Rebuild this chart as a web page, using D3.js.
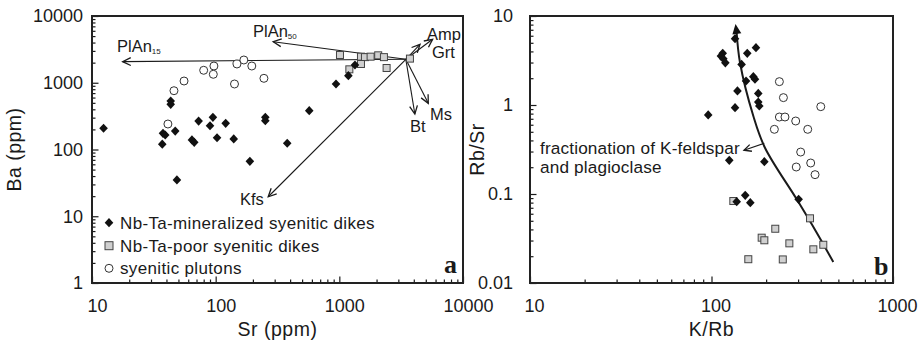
<!DOCTYPE html>
<html><head><meta charset="utf-8">
<script src="https://cdnjs.cloudflare.com/ajax/libs/d3/7.8.5/d3.min.js"></script>
<style>
body{margin:0;background:#fff;}
svg text{font-family:"Liberation Sans",Arial,sans-serif;fill:#1a1a1a;}
</style></head>
<body><svg id="c" width="920" height="344"></svg>
<script>
// ---------- Panel a data: Sr (ppm), Ba (ppm) ----------
const mineralizedSr = [12.4,43.3,43.3,37.5,39.1,47.1,37,64.3,67.1,72.8,95,90,102.6,120.5,140,189,48.6,252,252,379,571,940,1183,1338];
const mineralizedBa = [208,533,475,175,165,189,120,139,128,267,303,227,150,247,144,66.5,35,303,270,124,382,957,1276,1845];
const poorSr = [1012,1496,1611,1790,2062,2294,2411,1496,1205,3724];
const poorBa = [2605,2459,2420,2459,2576,2420,1663,1910,1589,2300];
const plutonSr = [41.1,46,55.5,80,96.8,95.7,142,148.6,169,196,245.6];
const plutonBa = [241,760,1062,1537,1782,1339,958,1910,2193,1782,1165];
const vectorOrigin = [3450,2245];
const vectorNames = ["PlAn15","PlAn50","Amp","Grt","Bt","Ms","Kfs"];
const vectorEndSr = [17.7,292,5680,4490,4080,5240,266];
const vectorEndBa = [2070,4120,4480,3770,340,492,19.6];
const legendLabels = ["Nb-Ta-mineralized syenitic dikes","Nb-Ta-poor syenitic dikes","syenitic plutons"];
const aTicksX = [10,100,1000,10000];
const aTicksY = [1,10,100,1000,10000];

// ---------- Panel b data: K/Rb, Rb/Sr ----------
const bMinKRb = [134.8,115.3,112.7,116.2,119.2,157.4,175.8,146.5,155,170,173.6,139,181,181,183.4,134.8,95.9,125.3,195.5,153.4,137.7,163.6,302];
const bMinRbSr = [5.56,3.81,3.55,3.31,2.98,3.81,4.41,2.86,1.86,2.08,1.95,1.44,1.35,1.08,0.975,0.933,0.773,0.239,0.231,0.0966,0.082,0.0798,0.0871];
const bPoorKRb = [131.9,349,224.6,189,195.5,268.5,413,364,159.5,247];
const bPoorRbSr = [0.0834,0.0533,0.0407,0.0323,0.0302,0.0279,0.0269,0.0239,0.0185,0.0184];
const bPlutKRb = [236.6,249,400,236.6,254,291,222,339,310,352,293,372];
const bPlutRbSr = [1.83,1.21,0.958,0.733,0.733,0.661,0.533,0.533,0.296,0.223,0.201,0.165];
const trendKRb = [469,380,295,197,170,143.6,137.5];
const trendRbSr = [0.0172,0.0367,0.0871,0.331,0.752,2.98,6.61];
const trendTip = [135.6,8.13];
const noteArrowKRb = [195.4,151];
const noteArrowRbSr = [0.371,0.310];
const bTicksX = [10,100,1000];
const bTicksY = [0.01,0.1,1,10];

const svg = d3.select("#c");
const INK = "#1a1a1a";

function minorTicks(lo, hi){
  const out=[];
  for(let d=lo; d<hi; d*=10) for(let k=2;k<=9;k++) out.push(d*k);
  return out;
}

function panel(x, y, ticksX, ticksY, xLabelDx, yPad, xTitle, yTitle, yTitleX, fmtY){
  const g = svg.append("g");
  const [x0,x1]=x.range(), [y0,y1]=y.range();
  g.append("g").attr("transform",`translate(0,${y0})`)
    .call(d3.axisBottom(x).tickValues(minorTicks(ticksX[0],ticksX[ticksX.length-1])).tickSize(-3.5).tickFormat(""))
    .call(s=>s.select(".domain").remove());
  g.append("g").attr("transform",`translate(${x0},0)`)
    .call(d3.axisLeft(y).tickValues(minorTicks(ticksY[0],ticksY[ticksY.length-1])).tickSize(-3.5).tickFormat(""))
    .call(s=>s.select(".domain").remove());
  const ax = g.append("g").attr("transform",`translate(0,${y0})`)
    .call(d3.axisBottom(x).tickValues(ticksX).tickSize(-6.5).tickPadding(16).tickFormat(d3.format("d")));
  ax.select(".domain").remove();
  ax.selectAll("text").attr("dx",xLabelDx).style("font-size","18px").style("font-family","Liberation Sans, Arial");
  const ay = g.append("g").attr("transform",`translate(${x0},0)`)
    .call(d3.axisLeft(y).tickValues(ticksY).tickSize(-6.5).tickPadding(yPad).tickFormat(fmtY));
  ay.select(".domain").remove();
  ay.selectAll("text").style("font-size","18px").style("font-family","Liberation Sans, Arial");
  g.selectAll(".tick line").attr("stroke",INK).attr("stroke-width",1.2);
  g.append("rect").attr("x",x0).attr("y",y1).attr("width",x1-x0).attr("height",y0-y1)
    .attr("fill","none").attr("stroke","#222").attr("stroke-width",2);
  g.append("text").attr("x",(x0+x1)/2).attr("y",336).attr("text-anchor","middle")
    .style("font-size","19.5px").style("letter-spacing","0.5px").text(xTitle);
  g.append("text").attr("transform",`translate(${yTitleX},${(y0+y1)/2}) rotate(-90)`)
    .attr("text-anchor","middle").style("font-size","19.5px").style("letter-spacing","0.5px").text(yTitle);
  return g;
}

const diamond = "M0,-4.6L4.3,0L0,4.6L-4.3,0Z";
function drawDiamonds(g,xs,ys,x,y){
  g.selectAll(null).data(xs).enter().append("path").attr("d",diamond)
    .attr("transform",(d,i)=>`translate(${x(d)},${y(ys[i])})`).attr("fill","#111");
}
function drawSquares(g,xs,ys,x,y){
  g.selectAll(null).data(xs).enter().append("rect")
    .attr("x",d=>x(d)-3.5).attr("y",(d,i)=>y(ys[i])-3.5).attr("width",7).attr("height",7)
    .attr("fill","#d0d0d0").attr("stroke","#444").attr("stroke-width",1);
}
function drawCircles(g,xs,ys,x,y){
  g.selectAll(null).data(xs).enter().append("circle")
    .attr("cx",d=>x(d)).attr("cy",(d,i)=>y(ys[i])).attr("r",4)
    .attr("fill","#fff").attr("stroke","#333").attr("stroke-width",1);
}
function arrowLine(g,xa,ya,xb,yb,head){
  g.append("line").attr("x1",xa).attr("y1",ya).attr("x2",xb).attr("y2",yb)
    .attr("stroke",INK).attr("stroke-width",1.1);
  const ang=Math.atan2(yb-ya,xb-xa), L=head||9, s=0.45;
  const p=`M${xb-L*Math.cos(ang-s)},${yb-L*Math.sin(ang-s)}L${xb},${yb}L${xb-L*Math.cos(ang+s)},${yb-L*Math.sin(ang+s)}`;
  g.append("path").attr("d",p).attr("fill","none").attr("stroke",INK).attr("stroke-width",1.3);
}

// ===== Panel a =====
const xa = d3.scaleLog().domain([10,10000]).range([92,463]);
const ya = d3.scaleLog().domain([1,10000]).range([283,16]);
const ga = panel(xa,ya,aTicksX,aTicksY,5,9,"Sr (ppm)","Ba (ppm)",21,d3.format("d"));

const ox=xa(vectorOrigin[0]), oy=ya(vectorOrigin[1]);
vectorNames.forEach((n,i)=>arrowLine(ga,ox,oy,xa(vectorEndSr[i]),ya(vectorEndBa[i]),9));

drawCircles(ga,plutonSr,plutonBa,xa,ya);
drawSquares(ga,poorSr,poorBa,xa,ya);
drawDiamonds(ga,mineralizedSr,mineralizedBa,xa,ya);

function subLabel(g,x,y,main,sub,fs){
  const t=g.append("text").attr("x",x).attr("y",y).style("font-size",fs+"px");
  t.append("tspan").text(main);
  t.append("tspan").attr("dy",2).style("font-size","8px").text(sub);
}
subLabel(ga,117,52,"PlAn","15",16.5);
subLabel(ga,253,37,"PlAn","50",16.5);
const vlab=[["Amp",427,40],["Grt",432,58],["Bt",410,131.5],["Ms",430,120],["Kfs",240,205]];
vlab.forEach(v=>ga.append("text").attr("x",v[1]).attr("y",v[2]).style("font-size","16.5px").text(v[0]));

const legY=[222.7,245.7,268.3];
ga.append("path").attr("d",diamond).attr("transform",`translate(109,${legY[0]})`).attr("fill","#111");
ga.append("rect").attr("x",105).attr("y",legY[1]-4).attr("width",8).attr("height",8).attr("fill","#d0d0d0").attr("stroke","#444");
ga.append("circle").attr("cx",109).attr("cy",legY[2]).attr("r",4).attr("fill","#fff").attr("stroke","#333");
legendLabels.forEach((l,i)=>ga.append("text").attr("x",120).attr("y",legY[i]+6).style("font-size","17px")
  .style("letter-spacing","0.35px").text(l));
ga.append("text").attr("x",444).attr("y",273).style("font-family","Liberation Serif, Times New Roman, serif")
  .style("font-weight","bold").style("font-size","26px").text("a");

// ===== Panel b =====
const xb = d3.scaleLog().domain([10,1000]).range([530,893]);
const yb = d3.scaleLog().domain([0.01,10]).range([283,16]);
const gb = panel(xb,yb,bTicksX,bTicksY,4,17,"K/Rb","Rb/Sr",484,d=>d<1?String(d):d3.format("d")(d));

const pts = trendKRb.map((d,i)=>[xb(d),yb(trendRbSr[i])]);
gb.append("path").attr("d",d3.line().curve(d3.curveCatmullRom)(pts)).attr("fill","none")
  .attr("stroke",INK).attr("stroke-width",2);
const tip=[xb(trendTip[0]),yb(trendTip[1])], last=pts[pts.length-1];
{
  const ang=Math.atan2(tip[1]-last[1],tip[0]-last[0]);
  const L=10,w=4.5;
  const bx=tip[0]-L*Math.cos(ang), by=tip[1]-L*Math.sin(ang);
  gb.append("path").attr("d",`M${tip[0]},${tip[1]}L${bx+w*Math.sin(ang)},${by-w*Math.cos(ang)}L${bx-w*Math.sin(ang)},${by+w*Math.cos(ang)}Z`).attr("fill","#111");
}
arrowLine(gb,xb(noteArrowKRb[0]),yb(noteArrowRbSr[0]),xb(noteArrowKRb[1]),yb(noteArrowRbSr[1]),8);

drawCircles(gb,bPlutKRb,bPlutRbSr,xb,yb);
drawSquares(gb,bPoorKRb,bPoorRbSr,xb,yb);
drawDiamonds(gb,bMinKRb,bMinRbSr,xb,yb);

gb.append("text").attr("x",540).attr("y",153.5).style("font-size","17.2px").style("letter-spacing","0.15px").text("fractionation of K-feldspar");
gb.append("text").attr("x",540).attr("y",173).style("font-size","17.2px").style("letter-spacing","0.15px").text("and plagioclase");
gb.append("text").attr("x",874).attr("y",275).style("font-family","Liberation Serif, Times New Roman, serif")
  .style("font-weight","bold").style("font-size","26px").text("b");
</script></body></html>
